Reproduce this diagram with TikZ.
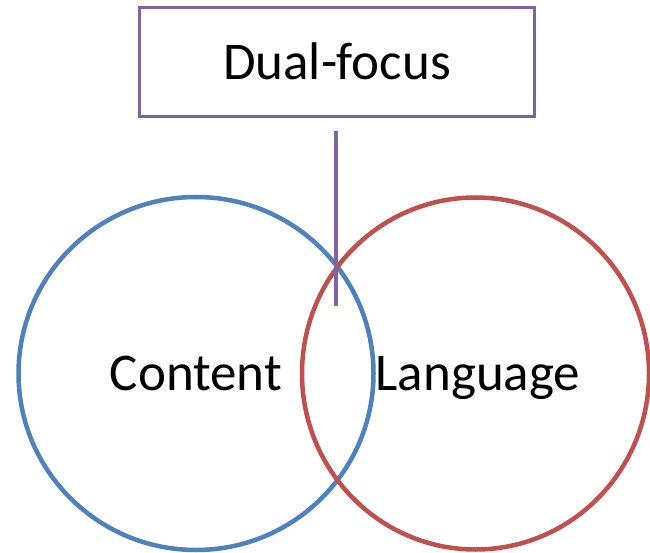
\documentclass[tikz,border=0pt]{standalone}
\usepackage{fontspec}
\usetikzlibrary{shapes.geometric}
\setmainfont{Carlito}
\definecolor{accentblue}{HTML}{4F81BD}
\definecolor{accentred}{HTML}{C0504D}
\definecolor{accentpurple}{HTML}{8064A2}
\begin{document}
\begin{tikzpicture}[x=1pt,y=-1pt,
  bigtext/.style={font=\fontsize{53}{60}\selectfont, inner sep=0pt},
  ring/.style={ellipse, draw, line width=4.5pt, inner sep=0pt},
  titlebox/.style={draw=accentpurple, line width=3pt, inner sep=0pt,
    minimum width=395pt, minimum height=109pt}]
  \useasboundingbox (0,0) rectangle (650,553);
  % the two overlapping circles
  \node[ring, draw=accentblue, minimum width=355pt, minimum height=353pt] (content) at (196,373.5) {};
  \node[ring, draw=accentred, minimum width=347pt, minimum height=352pt] (language) at (475.5,373.5) {};
  % labels set on a common baseline
  \node[bigtext, anchor=base] (contentlabel) at (196,390) {Content};
  \node[bigtext, anchor=base] (languagelabel) at (478,390) {Language};
  % heading box and its stem into the overlap
  \node[titlebox] (box) at (337,62.5) {};
  \node[bigtext, anchor=base] (boxlabel) at (337,80) {Dual-focus};
  \coordinate (stemEnd) at (336,305.5);
  \draw[accentpurple, line width=4pt] ([xshift=-1pt,yshift=-13pt]box.south) -- (stemEnd);
\end{tikzpicture}
\end{document}
